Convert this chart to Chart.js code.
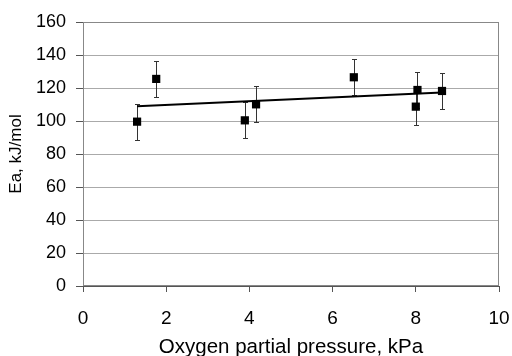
<!DOCTYPE html>
<html>
<head>
<meta charset="utf-8">
<script src="https://cdn.jsdelivr.net/npm/chart.js@4/dist/chart.umd.min.js"></script>
<style>
  html, body { margin: 0; padding: 0; background: #fff; }
  #wrap { width: 512px; height: 356px; }
</style>
</head>
<body>
<div id="wrap"><canvas id="c" width="512" height="356"></canvas></div>
<script>
// Measured activation energies vs oxygen partial pressure
const pressure = [1.30, 1.76, 3.89, 4.16, 6.51, 8.00, 8.04, 8.63];
const energy   = [99.6, 125.5, 100.4, 110.1, 126.5, 108.7, 118.8, 118.2];
const errorBar = [11, 11, 11, 11, 11, 11, 11, 11];

// Linear trend line end points
const trendX = [1.30, 8.63];
const trendY = [108.9, 117.2];

const xTicks = [0, 2, 4, 6, 8, 10];
const yTicks = [0, 20, 40, 60, 80, 100, 120, 140, 160];

const FONT = '"Liberation Sans", Arial, sans-serif';

// Vertical error bars with small caps, drawn under the markers
const errorBars = {
  id: 'errorBars',
  beforeDatasetsDraw(chart) {
    const ctx = chart.ctx;
    const xs = chart.scales.x, ys = chart.scales.y;
    ctx.save();
    ctx.strokeStyle = '#333';
    ctx.lineWidth = 1;
    pressure.forEach((p, i) => {
      const px = Math.round(xs.getPixelForValue(p)) + 0.5;
      const top = Math.round(ys.getPixelForValue(energy[i] + errorBar[i])) + 0.5;
      const bot = Math.round(ys.getPixelForValue(energy[i] - errorBar[i])) + 0.5;
      ctx.beginPath();
      ctx.moveTo(px, top); ctx.lineTo(px, bot);
      ctx.moveTo(px - 2.5, top); ctx.lineTo(px + 2.5, top);
      ctx.moveTo(px - 2.5, bot); ctx.lineTo(px + 2.5, bot);
      ctx.stroke();
    });
    ctx.restore();
  }
};

// Grey frame around the plotting area
const frame = {
  id: 'frame',
  beforeDatasetsDraw(chart) {
    const a = chart.chartArea, ctx = chart.ctx;
    ctx.save();
    ctx.strokeStyle = '#888';
    ctx.lineWidth = 1;
    ctx.strokeRect(Math.round(a.left) + 0.5, Math.round(a.top) + 0.5,
                   Math.round(a.right - a.left) - 1, Math.round(a.bottom - a.top) - 1);
    ctx.restore();
  }
};

new Chart(document.getElementById('c'), {
  type: 'scatter',
  data: {
    datasets: [
      {
        type: 'line',
        data: trendX.map((x, i) => ({ x, y: trendY[i] })),
        borderColor: '#000',
        borderWidth: 2,
        pointRadius: 0,
        fill: false,
        order: 2
      },
      {
        data: pressure.map((x, i) => ({ x, y: energy[i] })),
        pointStyle: 'rect',
        pointRadius: 5.8,
        backgroundColor: '#000',
        borderColor: '#000',
        borderWidth: 0,
        order: 1
      }
    ]
  },
  options: {
    responsive: false,
    animation: false,
    layout: { padding: { left: 0, top: 22, right: 13, bottom: 0 } },
    plugins: { legend: { display: false }, tooltip: { enabled: false } },
    scales: {
      x: {
        type: 'linear',
        min: 0, max: 10,
        afterBuildTicks(s) { s.ticks = xTicks.map(v => ({ value: v })); },
        afterFit(s) { s.height = 70; s.paddingLeft = 0; s.paddingRight = 0; },
        grid: { drawOnChartArea: false, drawTicks: true, tickLength: 6, color: '#555' },
        border: { color: '#555' },
        ticks: { color: '#000', font: { family: FONT, size: 19 }, padding: 15, maxRotation: 0 },
        title: {
          display: true,
          text: 'Oxygen partial pressure, kPa',
          color: '#000',
          font: { family: FONT, size: 20.5 },
          padding: { top: 0, bottom: -4 }
        }
      },
      y: {
        min: 0, max: 160,
        afterBuildTicks(s) { s.ticks = yTicks.map(v => ({ value: v })); },
        afterFit(s) { s.width = 83; },
        grid: { color: '#aaaaaa', tickColor: '#555', tickLength: 7 },
        border: { color: '#555' },
        ticks: { color: '#000', font: { family: FONT, size: 18 }, padding: 10 },
        title: {
          display: true,
          text: 'Ea, kJ/mol',
          color: '#000',
          font: { family: FONT, size: 17 },
          padding: { top: 6, bottom: 0 }
        }
      }
    }
  },
  plugins: [frame, errorBars]
});
</script>
</body>
</html>
